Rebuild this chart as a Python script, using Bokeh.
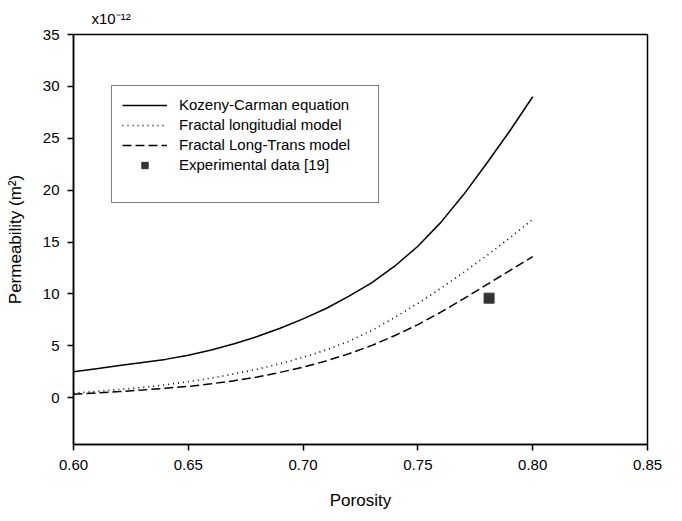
from bokeh.plotting import figure
from bokeh.models import (Range1d, FixedTicker, NumeralTickFormatter, Legend, LegendItem,
                          ColumnDataSource)
from bokeh.embed import file_html
from bokeh.resources import INLINE

# ---- data ----
porosity = [0.60, 0.61, 0.62, 0.63, 0.64, 0.65, 0.66, 0.67, 0.68, 0.69, 0.70,
            0.71, 0.72, 0.73, 0.74, 0.75, 0.76, 0.77, 0.78, 0.79, 0.80]
kozeny_carman = [2.5, 2.8, 3.1, 3.4, 3.7, 4.1, 4.6, 5.2, 5.9, 6.7, 7.6,
                 8.6, 9.8, 11.1, 12.7, 14.6, 16.9, 19.6, 22.6, 25.7, 29.0]
fractal_long = [0.45, 0.62, 0.8, 1.0, 1.25, 1.55, 1.9, 2.3, 2.75, 3.3, 3.9,
                4.6, 5.45, 6.5, 7.75, 9.1, 10.55, 12.1, 13.7, 15.4, 17.2]
fractal_long_trans = [0.35, 0.47, 0.6, 0.75, 0.92, 1.1, 1.35, 1.65, 2.0, 2.45, 2.95,
                      3.55, 4.25, 5.05, 6.0, 7.05, 8.25, 9.55, 10.9, 12.25, 13.6]
exp_porosity = [0.781]
exp_perm = [9.6]

x_ticks = [0.60, 0.65, 0.70, 0.75, 0.80, 0.85]
y_ticks = [0, 5, 10, 15, 20, 25, 30, 35]

FONT = "Liberation Sans"

p = figure(width=666, height=513, x_range=Range1d(0.60, 0.85), y_range=Range1d(-4.5, 35),
           output_backend="svg", toolbar_location=None,
           min_border_left=73, min_border_right=19, min_border_top=33, min_border_bottom=69)

p.background_fill_color = "white"
p.border_fill_color = "white"
p.outline_line_color = "black"
p.outline_line_width = 1.5
p.xgrid.visible = False
p.ygrid.visible = False

# multiplier above the frame
p.title.text = "x10\u207b\u00b9\u00b2"
p.title.align = "left"
p.title.offset = 18
p.title.standoff = 15
p.title.text_font = FONT
p.title.text_font_size = "15px"
p.title.text_font_style = "normal"
p.title.text_color = "black"

for ax in (p.xaxis[0], p.yaxis[0]):
    ax.axis_line_color = "black"
    ax.axis_line_width = 1.5
    ax.major_tick_line_color = "black"
    ax.major_tick_line_width = 1.5
    ax.major_tick_in = 0
    ax.major_tick_out = 6
    ax.minor_tick_line_color = None
    ax.major_label_text_font = FONT
    ax.major_label_text_font_size = "15px"
    ax.major_label_text_color = "black"
    ax.axis_label_text_font = FONT
    ax.axis_label_text_font_size = "17px"
    ax.axis_label_text_font_style = "normal"
    ax.axis_label_text_color = "black"

p.xaxis.ticker = FixedTicker(ticks=x_ticks)
p.xaxis.formatter = NumeralTickFormatter(format="0.00")
p.yaxis.ticker = FixedTicker(ticks=y_ticks)
p.xaxis.axis_label = "Porosity"
p.yaxis.axis_label = "Permeability (m\u00b2)"
p.xaxis.major_label_standoff = 9
p.yaxis.major_label_standoff = 8
p.xaxis.axis_label_standoff = 18
p.yaxis.axis_label_standoff = 15

src = ColumnDataSource(dict(x=porosity, kc=kozeny_carman, fl=fractal_long, flt=fractal_long_trans))
r1 = p.line("x", "kc", source=src, line_color="black", line_width=1.5)
r2 = p.line("x", "fl", source=src, line_color="black", line_width=1.6, line_dash="1 4")
r3 = p.line("x", "flt", source=src, line_color="black", line_width=1.5, line_dash="9 4")
r4 = p.scatter(exp_porosity, exp_perm, marker="square", size=10,
               fill_color="#333333", line_color="#333333")
r_blank = p.line([], [], line_alpha=0)

legend = Legend(items=[
    LegendItem(label="Kozeny-Carman equation", renderers=[r1]),
    LegendItem(label="Fractal longitudial model", renderers=[r2]),
    LegendItem(label="Fractal Long-Trans model", renderers=[r3]),
    LegendItem(label="Experimental data [19]", renderers=[r4]),
    LegendItem(label=" ", renderers=[r_blank]),
], location=(38, 241))
legend.border_line_color = "black"
legend.border_line_width = 1.5
legend.background_fill_color = "white"
legend.background_fill_alpha = 1
legend.label_text_font = FONT
legend.label_text_font_size = "15px"
legend.label_text_color = "black"
legend.glyph_width = 45
legend.glyph_height = 16
legend.label_height = 16
legend.label_standoff = 12
legend.label_width = 189
legend.spacing = 3
legend.padding = 10
legend.margin = 0
p.add_layout(legend, "center")

open("out.html", "w").write(file_html(p, INLINE))
